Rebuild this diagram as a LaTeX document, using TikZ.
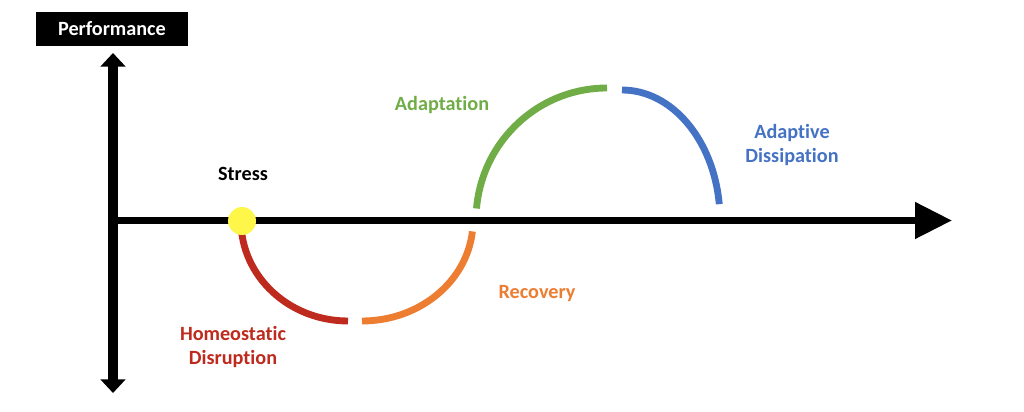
\documentclass[tikz,border=0pt]{standalone}
\usepackage{fontspec}
\setmainfont{Carlito}[Ligatures=NoCommon]
\usetikzlibrary{arrows.meta}
\definecolor{cred}{HTML}{BE2A1D}
\definecolor{corange}{HTML}{ED7D31}
\definecolor{cgreen}{HTML}{70AD47}
\definecolor{cblue}{HTML}{4472C4}
\definecolor{cyellow}{HTML}{FFF64A}
\tikzset{
  lbl/.style={font=\bfseries\fontsize{11.5pt}{13.6pt}\selectfont, align=center, inner sep=0pt},
  curve/.style={line width=3.9pt},
}
\begin{document}
\begin{tikzpicture}[x=0.02cm,y=0.02cm]
\useasboundingbox (0,0) rectangle (1024,412);
\fill[white] (0,0) rectangle (1024,412);
% title box
\node[fill=black, text=white, lbl, minimum width=3.04cm, minimum height=0.68cm] (perf) at (112,383) {Performance};
% axes
\coordinate (vtop) at (113,359);
\coordinate (vbot) at (113,19);
\coordinate (hstart) at (113,191.5);
\coordinate (hend) at (952,191.5);
\draw[line width=5.6pt, {Triangle[length=7.8pt,width=14pt]}-{Triangle[length=7.8pt,width=14pt]}] (vbot) -- (vtop);
\draw[line width=4pt, -{Triangle[length=21pt,width=20pt]}] (hstart) -- (hend);
% arcs
\coordinate (cr) at (348,191);
\coordinate (co) at (362,191);
\coordinate (cg) at (607,192);
\coordinate (cb) at (622,192);
\draw[curve, cred] (cr) ++(180:107 and 100) arc[start angle=180, end angle=270, x radius=107, y radius=100];
\draw[curve, corange] (co) ++(270:111 and 100) arc[start angle=270, end angle=354, x radius=111, y radius=100];
\draw[curve, cgreen] (cg) ++(175:131 and 132) arc[start angle=175, end angle=90, x radius=131, y radius=132];
\draw[curve, cblue] (cb) ++(90:98 and 130) arc[start angle=90, end angle=7, x radius=98, y radius=130];
% stress point
\node[circle, fill=cyellow, minimum size=0.56cm, inner sep=0pt] (stresspt) at (242,191) {};
% labels
\node[lbl] (stress) at (243,238) {Stress};
\node[lbl, text=cgreen] (adapt) at (442,307) {Adaptation};
\node[lbl, text=cblue] (diss) at (792,267) {Adaptive\\Dissipation};
\node[lbl, text=corange] (recov) at (537,118) {Recovery};
\node[lbl, text=cred] (homeo) at (233,65) {Homeostatic\\Disruption};
\end{tikzpicture}
\end{document}
